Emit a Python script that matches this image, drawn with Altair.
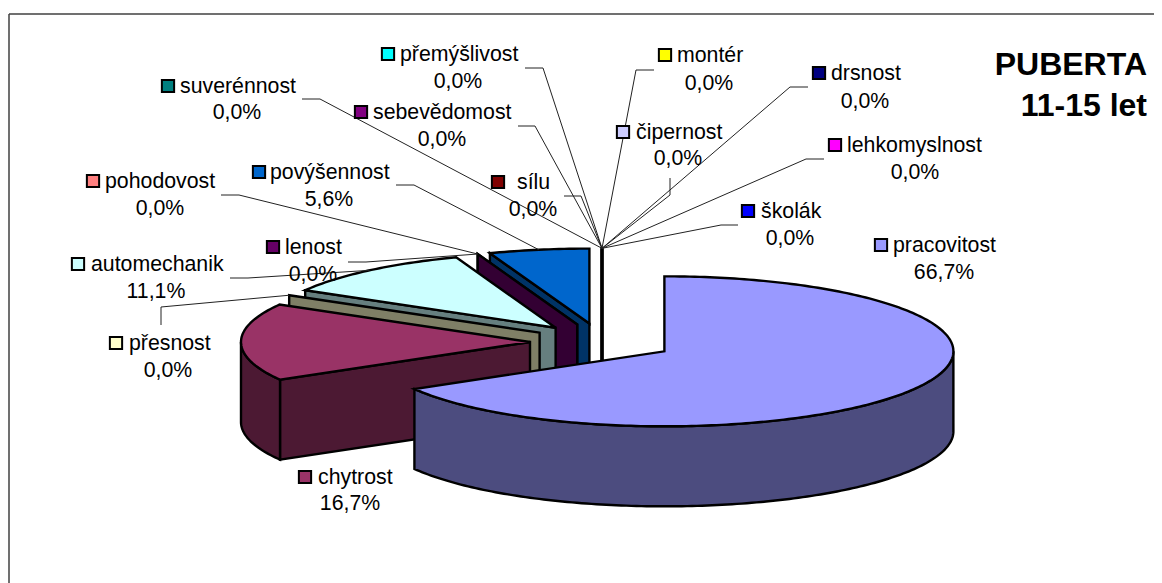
import math
import altair as alt
import pandas as pd

# ---- data, in the clockwise order of the slices ----
categories = ["pracovitost", "chytrost", "přesnost", "automechanik", "lenost", "pohodovost",
              "povýšennost", "čipernost", "drsnost", "lehkomyslnost", "montér", "přemýšlivost",
              "sebevědomost", "sílu", "suverénnost", "školák"]
values = [66.7, 16.7, 0, 11.1, 0, 0, 5.6, 0, 0, 0, 0, 0, 0, 0, 0, 0]
colors = ["#9999FF", "#993366", "#FFFFCC", "#CCFFFF", "#660066", "#FF8080", "#0066CC", "#CCCCFF",
          "#000080", "#FF00FF", "#FFFF00", "#00FFFF", "#800080", "#800000", "#008080", "#0000FF"]
title_lines = ["PUBERTA", "11-15 let"]

# ---- layout, in page pixels ----
W, H = 1146, 575
OFF = 8
CX, CY, RX, RY, DEPTH, EXPLODE = 602, 342, 289, 75, 80, 72
# key x, key y, text x, percent x, percent y
label_layout = {
    "suverénnost": (168, 86, 180, 237, 113), "přemýšlivost": (388, 54, 400, 458, 82),
    "sebevědomost": (361, 112, 373, 442, 140), "montér": (665, 55, 677, 709, 84),
    "drsnost": (819, 73, 831, 865, 102), "čipernost": (623, 132, 636, 678, 159),
    "lehkomyslnost": (835, 145, 847, 915, 173), "sílu": (498, 182, 517, 533, 210),
    "povýšennost": (259, 172, 270, 329, 200), "pohodovost": (93, 181, 105, 160, 209),
    "školák": (748, 211, 761, 790, 239), "pracovitost": (881, 245, 893, 944, 273),
    "lenost": (273, 247, 285, 313, 275), "automechanik": (78, 264, 91, 156, 292),
    "přesnost": (116, 343, 129, 168, 371), "chytrost": (305, 477, 318, 350, 504),
}
# leader start and elbow; the end is the rim point of the slice
leader_layout = {
    "suverénnost": ((302, 99), (320, 99)), "přemýšlivost": ((525, 68), (543, 68)),
    "sebevědomost": ((518, 126), (535, 126)), "sílu": ((564, 196), (581, 196)),
    "povýšennost": ((396, 185), (414, 185)), "pohodovost": ((221, 195), (239, 195)),
    "lenost": ((348, 262), (366, 262)), "automechanik": ((230, 278), (248, 278)),
    "přesnost": ((161, 325), (161, 307)), "montér": ((654, 70), (636, 70)),
    "drsnost": ((808, 87), (790, 87)), "čipernost": ((670, 178), (670, 195)),
    "lehkomyslnost": ((824, 159), (806, 159)), "školák": ((738, 225), (721, 225)),
}

total = sum(values)
slices = []
cum = 0.0
for name, v, c in zip(categories, values, colors):
    a0 = cum / total * 360
    cum += v
    a1 = cum / total * 360
    mid = math.radians((a0 + a1) / 2)
    slices.append(dict(name=name, v=v, color=c, a0=a0, a1=a1,
                       cx=CX + EXPLODE * math.sin(mid),
                       cy=CY - EXPLODE * RY / RX * math.cos(mid)))


def rim(s, a):
    r = math.radians(a)
    return (s["cx"] + RX * math.sin(r), s["cy"] - RY * math.cos(r))


def darker(c):
    return "#" + "".join(f"{int(c[i:i + 2], 16) // 2:02X}" for i in (1, 3, 5))


def feature(points, fill):
    pts = [[round(x - OFF, 2), round(y - OFF, 2)] for x, y in points]
    pts.append(pts[0])
    return {"type": "Feature", "properties": {"fill": fill},
            "geometry": {"type": "Polygon", "coordinates": [pts]}}


def arc(s, a, b):
    n = max(1, int(abs(b - a)))
    return [rim(s, a + (b - a) * i / n) for i in range(n + 1)]


features = []
for s in reversed(slices):
    dark = darker(s["color"])
    c = (s["cx"], s["cy"])
    if math.sin(math.radians(s["a0"])) <= 1e-9 and s["a0"] > 0:
        p = rim(s, s["a0"])
        features.append(feature([c, p, (p[0], p[1] + DEPTH), (c[0], c[1] + DEPTH)], dark))
    lo, hi = max(s["a0"], 90), min(s["a1"], 270)
    if hi > lo:
        top = arc(s, lo, hi)
        features.append(feature(top + [(x, y + DEPTH) for x, y in reversed(top)], dark))
    if s["v"] > 0:
        features.append(feature([c] + arc(s, s["a0"], s["a1"]), s["color"]))

pie = (alt.Chart(alt.Data(values=features))
       .mark_geoshape(stroke="black", strokeWidth=2.4)
       .encode(color=alt.Color("properties.fill:N", scale=None, legend=None))
       .project(type="identity", scale=1, translate=[0, 0]))

X = lambda f: alt.X(f, scale=None, axis=None)
Y = lambda f: alt.Y(f, scale=None, axis=None)

frame = pd.DataFrame([dict(x=9 - OFF, y=14 - OFF, x2=W, y2=14 - OFF),
                      dict(x=9 - OFF, y=14 - OFF, x2=9 - OFF, y2=H)])
frame_lines = alt.Chart(frame).mark_rule(color="#404040", strokeWidth=1.5).encode(
    x=X("x:Q"), y=Y("y:Q"), x2="x2:Q", y2="y2:Q")

rows = []
by_name = {s["name"]: s for s in slices}
for name, (start, elbow) in leader_layout.items():
    s = by_name[name]
    end = rim(s, (s["a0"] + s["a1"]) / 2)
    for i, p in enumerate((start, elbow, end)):
        rows.append(dict(name=name, i=i, x=p[0] - OFF, y=p[1] - OFF))
leaders = alt.Chart(pd.DataFrame(rows)).mark_line(color="#222222", strokeWidth=1).encode(
    x=X("x:Q"), y=Y("y:Q"), detail="name:N", order="i:Q")

lab = []
for s in slices:
    kx, ky, tx, px, py = label_layout[s["name"]]
    lab.append(dict(name=s["name"], color=s["color"], kx=kx - OFF, ky=ky - OFF, tx=tx - OFF,
                    px=px - OFF, py=py - OFF, pct=f"{s['v']:.1f}%".replace(".", ",")))
lab = pd.DataFrame(lab)

keys = alt.Chart(lab).mark_square(size=150, stroke="black", strokeWidth=2, opacity=1, filled=True).encode(
    x=X("kx:Q"), y=Y("ky:Q"), color=alt.Color("color:N", scale=None, legend=None))
names = alt.Chart(lab).mark_text(align="left", baseline="middle", dy=1, font="Liberation Sans", fontSize=21.3,
                                 color="black").encode(x=X("tx:Q"), y=Y("ky:Q"), text="name:N")
pcts = alt.Chart(lab).mark_text(align="center", baseline="middle", font="Liberation Sans", fontSize=21.3,
                                color="black").encode(x=X("px:Q"), y=Y("py:Q"), text="pct:N")

title_df = pd.DataFrame([dict(t=title_lines[0], x=1147 - OFF, y=65 - OFF),
                         dict(t=title_lines[1], x=1147 - OFF, y=106 - OFF)])
title = alt.Chart(title_df).mark_text(align="right", baseline="middle", font="Liberation Sans", fontSize=32,
                                      fontWeight="bold", color="black").encode(
    x=X("x:Q"), y=Y("y:Q"), text="t:N")

chart = (alt.layer(frame_lines, pie, leaders, keys, names, pcts, title)
         .resolve_scale(color="independent")
         .properties(width=W, height=H, padding=0, autosize=alt.AutoSizeParams(type="none"),
                     background="white")
         .configure_view(stroke=None))

chart.save("out.html", embed_options={"renderer": "svg", "actions": False})
